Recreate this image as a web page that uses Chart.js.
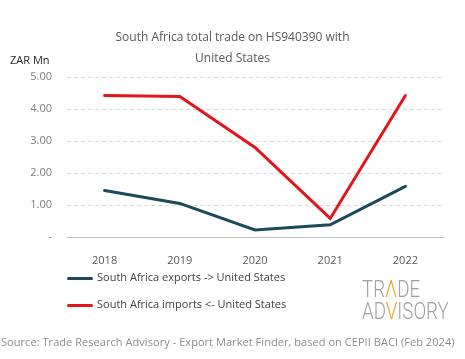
<!DOCTYPE html>
<html><head><meta charset="utf-8">
<script src="https://cdn.jsdelivr.net/npm/chart.js@4"></script>
<style>
html,body{margin:0;padding:0;background:#fff;width:465px;height:359px;overflow:hidden;font-family:"Open Sans",sans-serif;}
#wrap{position:relative;width:465px;height:359px;}
canvas{position:absolute;left:0;top:0;}
.t{position:absolute;white-space:nowrap;}
#title{left:0;width:465px;text-align:center;color:#595959;font-size:12px;line-height:21px;top:26px;}
#unit{left:10px;top:52px;font-size:11px;color:#262626;}
.leg{position:absolute;left:67px;height:14px;font-size:11px;color:#404040;}
.leg i{position:absolute;left:0;top:6px;width:26px;height:3px;border-radius:1.5px;}
.leg span{position:absolute;left:30px;top:-2px;white-space:nowrap;}
#src{left:1px;top:334px;font-size:11px;color:#8c8c8c;letter-spacing:0.05px;}
#logo{position:absolute;left:362px;top:278px;font-family:Roboto,sans-serif;font-weight:300;color:#a0a0a0;font-size:24px;line-height:22px;transform-origin:0 0;transform:scaleX(0.78);}
#logo b{font-weight:300;color:#f0a020;}
</style></head><body>
<div id="wrap">
<canvas id="c" width="465" height="359"></canvas>
<div id="title" class="t">South Africa total trade on HS940390 with<br>United States</div>
<div id="unit" class="t">ZAR Mn</div>
<div id="legend"></div>
<div id="logo">TR<b>Λ</b>DE<br>AD<b>V</b>ISORY</div>
<div id="src" class="t">Source: Trade Research Advisory - Export Market Finder, based on CEPII BACI (Feb 2024)</div>
</div>
<script>
const categories = ["2018","2019","2020","2021","2022"];
const exportsUS = [1.45, 1.05, 0.22, 0.38, 1.58];
const importsUS = [4.42, 4.39, 2.80, 0.58, 4.42];
const seriesNames = ["South Africa exports -> United States","South Africa imports <- United States"];
const yTicks = [0,1,2,3,4,5];
const colors = ["#1b4a5a","#e3141b"];

const chart = new Chart(document.getElementById('c'), {
  type:'line',
  data:{labels:categories,datasets:[
    {label:seriesNames[0],data:exportsUS,borderColor:colors[0],backgroundColor:colors[0],borderWidth:3,pointRadius:0,tension:0,borderCapStyle:'round'},
    {label:seriesNames[1],data:importsUS,borderColor:colors[1],backgroundColor:colors[1],borderWidth:3,pointRadius:0,tension:0,borderCapStyle:'round'}
  ]},
  options:{
    responsive:false,animation:false,
    layout:{padding:{top:77,right:22,bottom:92,left:0}},
    plugins:{legend:{display:false},title:{display:false},tooltip:{enabled:false}},
    scales:{
      x:{offset:true,grid:{display:false},border:{display:true,color:'#bfbfbf',width:1},
         ticks:{color:'#595959',font:{family:'Open Sans',size:11},padding:9},
         afterFit:s=>{s.height=30;}},
      y:{min:0,max:5,afterBuildTicks:s=>{s.ticks=yTicks.map(v=>({value:v}));},
         grid:{color:'#d9d9d9',lineWidth:1,drawTicks:false},
         border:{display:false,dash:ctx=>(ctx.tick&&ctx.tick.value===0)?[]:[4,3]},
         ticks:{color:'#7f7f7f',font:{family:'Open Sans',size:11},padding:15,
           callback:v=>v===0?'-':v.toFixed(2)},
         afterFit:s=>{s.width=67;}}
    }
  }
});
const leg=document.getElementById('legend');
chart.data.datasets.forEach((d,i)=>{
  const el=document.createElement('div');el.className='leg';el.style.top=(271+i*27)+'px';
  el.innerHTML='<i style="background:'+d.borderColor+'"></i><span>'+d.label.replace(/</g,'&lt;').replace(/>/g,'&gt;')+'</span>';
  leg.appendChild(el);
});
</script>
</body></html>
